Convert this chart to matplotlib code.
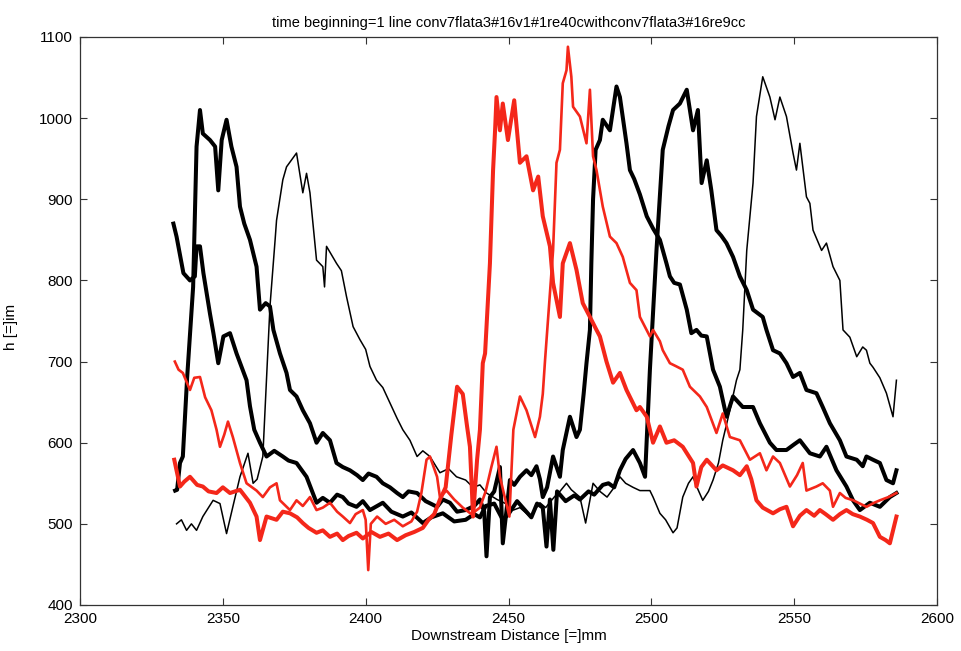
import numpy as np
import matplotlib
matplotlib.use("Agg")
from matplotlib import pyplot as plt

plt.rcParams['font.family'] = ['Liberation Sans', 'DejaVu Sans']

# profile snapshots, downstream distance [mm] vs film height
xA = [2332.7, 2333.8, 2336.2, 2338.5, 2340.2, 2340.8, 2342, 2343.2, 2345.5, 2346.7, 2348.4, 2350.2,
      2352.5, 2354.8, 2358.3, 2359.5, 2361, 2363, 2365.3, 2368, 2371, 2373, 2375.8, 2379.3, 2382.8,
      2385, 2387.5, 2390, 2392, 2394, 2396.8, 2399, 2401.5, 2404, 2406, 2409, 2413, 2416, 2420, 2423,
      2427, 2431, 2435, 2438, 2440, 2442, 2445, 2448, 2450, 2453, 2455, 2458, 2460, 2462, 2463.3,
      2464.5, 2465.7, 2467, 2470, 2473, 2475, 2478, 2480, 2483, 2485, 2487, 2489, 2491, 2493.6, 2496,
      2497.8, 2499.5, 2501.8, 2504, 2506, 2507.6, 2510, 2512.4, 2514.6, 2516.3, 2517.6, 2519.4, 2521,
      2522.8, 2524.5, 2526.3, 2528.6, 2531, 2533.4, 2535.6, 2539, 2540.3, 2542.6, 2545, 2547.3, 2549.6,
      2552, 2554.3, 2557.8, 2560, 2562.5, 2566, 2568.3, 2571.9, 2574, 2575.3, 2577.6, 2580, 2582.3,
      2584.6, 2585.8]
yA = [870, 854, 809, 800, 805, 842, 842, 809, 759, 735, 698, 731,
      735, 710, 677, 645, 616, 600, 583, 590, 583, 578, 575, 558, 526,
      532, 526, 536, 533, 525, 521, 528, 517, 522, 526, 515, 509, 514, 501, 508,
      513, 503, 505, 512, 508, 522, 525, 505, 512, 528, 520, 508, 525, 520, 472,
      530, 468, 540, 528, 535, 530, 540, 536, 548, 550, 545, 566, 580, 591, 575,
      558, 690, 837, 961, 990, 1010, 1018, 1035, 985, 1010, 920, 948, 911,
      862, 855, 846, 829, 805, 788, 764, 755, 739, 714, 710, 698, 681,
      686, 665, 661, 644, 624, 603, 583, 579, 571, 583, 579, 575, 554,
      550, 566]

xB = [2333.3, 2334, 2335, 2336, 2337.5, 2339.6, 2340.8, 2342, 2343, 2345.5, 2347.3, 2348.4, 2349.6,
      2351.3, 2353, 2354.8, 2356, 2357.5, 2359.5, 2361.8, 2363, 2365, 2366.5, 2367.7, 2370, 2372.3,
      2373.5, 2375.8, 2378, 2380.5, 2382.8, 2385, 2387.5, 2389.8, 2392, 2394.5, 2397, 2399, 2401,
      2403.8, 2406, 2408.5, 2411, 2413, 2415, 2418, 2421, 2425, 2427, 2429.5, 2432, 2435, 2438, 2440,
      2441.5, 2442.3, 2443.5, 2445, 2447, 2448, 2450.5, 2452, 2454, 2456.3, 2458, 2459.8, 2461, 2462,
      2463.5, 2465.6, 2468, 2469, 2471.5, 2473.8, 2475, 2476.3, 2477.3, 2478.5, 2479, 2479.6, 2480.5,
      2482, 2483, 2485.5, 2487.8, 2489, 2491.3, 2492.5, 2494, 2496, 2498.4, 2500.6, 2503, 2505.3,
      2506.5, 2508, 2510, 2512.4, 2514, 2515.8, 2517.5, 2519.4, 2521.6, 2524, 2526.3, 2528.6, 2532,
      2535.6, 2538, 2541.5, 2543.8, 2547.3, 2550, 2552, 2555.5, 2559, 2561.3, 2564.8, 2568.3, 2570.6,
      2573, 2576.5, 2580, 2583.5, 2585.8]
yB = [541, 542, 575, 583, 680, 792, 965, 1010, 981, 973, 965, 911, 973,
      998, 965, 940, 891, 870, 850, 817, 764, 772, 768, 739, 710, 686,
      665, 657, 640, 624, 600, 612, 603, 575, 570, 566, 560, 554, 562,
      558, 550, 545, 538, 533, 540, 538, 528, 521, 530, 526, 515, 517, 522, 530,
      515, 460, 533, 540, 570, 476, 554, 548, 558, 566, 560, 571, 555, 533,
      545, 583, 558, 591, 632, 607, 616, 660, 698, 739, 821, 900, 961,
      973, 998, 985, 1039, 1026, 969, 936, 925, 906, 879, 864, 850, 821,
      805, 797, 795, 764, 735, 739, 732, 731, 690, 669, 632, 657, 644,
      644, 624, 600, 591, 591, 598, 603, 587, 583, 595, 566, 546, 529,
      517, 526, 521, 533, 538]

xC = [2333.8, 2335.5, 2337.3, 2339, 2340.8, 2343, 2346.6, 2349, 2351.3, 2353.5, 2356, 2358.8, 2360.6,
      2362, 2364, 2366.5, 2368.3, 2368.8, 2371, 2372.3, 2375.8, 2378, 2379.3, 2380.5, 2382.8, 2385,
      2385.6, 2386.3, 2389.8, 2391.5, 2393.3, 2395.6, 2398, 2400, 2401.5, 2403.8, 2406, 2408.5, 2411,
      2413, 2415.5, 2418, 2420, 2422.5, 2426, 2429, 2431.8, 2435, 2437.6, 2440, 2442.3, 2446, 2449,
      2451.7, 2454, 2457.5, 2461, 2463, 2466, 2468, 2470.3, 2472, 2475, 2477, 2479.6, 2482, 2484.5,
      2487, 2489, 2491, 2493.6, 2496, 2499.5, 2500.6, 2503, 2505, 2507.6, 2509, 2511, 2513, 2514.6,
      2516, 2518, 2520, 2521.6, 2523.5, 2525, 2527.5, 2529.8, 2531, 2532, 2533.4, 2535.6, 2536.8,
      2539, 2541.5, 2543.3, 2545, 2547.3, 2549.6, 2550.8, 2552, 2554.3, 2555.5, 2556.6, 2559.6,
      2561.3, 2563.6, 2566, 2567.1, 2569.5, 2571.9, 2574, 2575.3, 2576.5, 2577.6, 2580, 2582.3,
      2584.6, 2585.8]
yC = [500, 505, 492, 500, 492, 509, 529, 525, 488, 521, 558, 587, 550,
      555, 583, 768, 850, 874, 924, 940, 957, 908, 932, 908, 825, 817,
      792, 842, 821, 812, 780, 743, 727, 715, 694, 677, 668, 649, 630,
      616, 603, 583, 590, 583, 563, 568, 558, 554, 545, 548, 538, 530, 525,
      517, 520, 509, 526, 520, 533, 540, 550, 542, 533, 501, 550, 540, 533,
      545, 558, 550, 545, 541, 541, 533, 513, 505, 489, 495, 533, 550, 558,
      545, 529, 540, 554, 575, 603, 640, 677, 690, 739, 837, 920, 1002,
      1051, 1026, 998, 1026, 1002, 957, 936, 969, 903, 895, 862, 837,
      846, 817, 800, 739, 730, 706, 718, 714, 698, 693, 680, 661,
      632, 677]

xR1 = [2333, 2335, 2336.5, 2338.5, 2341, 2343, 2345, 2347.8, 2350, 2352.5, 2356, 2359.5, 2361.8,
       2363, 2365.3, 2368.8, 2371, 2373.5, 2376, 2378, 2380, 2382.8, 2385, 2387.5, 2390, 2392, 2394,
       2396.8, 2399, 2402, 2405, 2408, 2411, 2414, 2417, 2420, 2422, 2424, 2426, 2428, 2430, 2432,
       2434, 2435.5, 2436.5, 2437.6, 2439, 2440, 2441, 2441.8, 2443.5, 2444.6, 2445.3, 2445.8, 2447,
       2448, 2449.8, 2452, 2454, 2456.3, 2458.6, 2460.4, 2462, 2464.5, 2465.6, 2468, 2469, 2471.5,
       2473.8, 2476, 2478.5, 2480.8, 2482, 2484.3, 2486.6, 2489, 2491.3, 2494.8, 2496, 2498.4, 2500.6,
       2503, 2505.3, 2508, 2511, 2514.6, 2515.8, 2517.5, 2519.4, 2522.8, 2525, 2528.6, 2531, 2533.4,
       2535, 2536.8, 2539, 2542.6, 2545, 2547.3, 2549.6, 2552, 2554.3, 2557, 2559, 2561, 2563.6, 2566,
       2568.3, 2570.5, 2573, 2575.5, 2577.6, 2580, 2582, 2583.5, 2585.8]
yR1 = [579, 546, 552, 558, 548, 546, 540, 538, 545, 538, 542, 526, 509,
       480, 509, 505, 515, 513, 508, 501, 495, 489, 492, 484, 488, 480, 485,
       489, 482, 490, 484, 488, 480, 486, 490, 495, 505, 512, 530, 545, 610, 669,
       660, 620, 595, 509, 579, 616, 698, 710, 821, 936, 985, 1026, 985,
       1018, 973, 1022, 945, 953, 911, 928, 879, 842, 797, 755, 821, 846,
       813, 772, 755, 739, 731, 700, 674, 686, 665, 640, 644, 632, 600,
       620, 600, 603, 595, 575, 546, 570, 579, 566, 572, 566, 560, 571,
       555, 529, 520, 513, 518, 521, 497, 510, 517, 510, 517, 512, 505, 512,
       517, 512, 509, 505, 501, 484, 480, 476, 509]

xR2 = [2333.2, 2334.5, 2336, 2338.5, 2340, 2342, 2343.8, 2346, 2347.8, 2349, 2350.5, 2351.8, 2353.5,
       2356, 2358.3, 2361.8, 2364, 2366.5, 2368.8, 2370, 2373.5, 2375.8, 2378, 2380.5, 2382.8, 2385,
       2387.5, 2390, 2392, 2394.5, 2396.5, 2399, 2400, 2400.9, 2401.8, 2404, 2407, 2410, 2413, 2416,
       2418, 2419.5, 2421.3, 2422.5, 2425, 2426, 2428.3, 2431, 2434, 2437, 2440, 2442, 2444, 2445.8,
       2447, 2450.3, 2451.7, 2454, 2456.3, 2459.3, 2461, 2462, 2462.8, 2465.6, 2466.8, 2468, 2469,
       2470.3, 2470.8, 2472, 2472.6, 2475, 2477.3, 2478.5, 2479.6, 2480.8, 2483, 2485.5, 2487.8, 2490,
       2492.5, 2494.8, 2496, 2499.5, 2500.6, 2503, 2504, 2506.5, 2508.8, 2511, 2513.5, 2517, 2519.4,
       2522.8, 2525, 2527.5, 2531, 2534.5, 2538, 2540.3, 2542.6, 2545, 2548.5, 2551, 2553, 2554.3,
       2557.8, 2560, 2562.5, 2563.6, 2566, 2568, 2570.7, 2573, 2575.3, 2578, 2580, 2583, 2585.8]
yR2 = [700, 690, 686, 665, 680, 681, 656, 640, 616, 595, 610, 626, 607,
       575, 550, 541, 533, 545, 550, 529, 517, 529, 522, 533, 517, 520,
       526, 515, 509, 501, 512, 517, 505, 443, 500, 509, 500, 505, 497, 503,
       515, 538, 579, 583, 558, 533, 541, 530, 520, 512, 520, 540, 570, 595,
       558, 509, 616, 657, 640, 607, 632, 660, 702, 837, 945, 961, 1043,
       1059, 1088, 1051, 1014, 1002, 969, 1035, 953, 936, 891, 854, 846, 829,
       797, 788, 755, 731, 739, 725, 714, 698, 694, 690, 669, 657, 644,
       612, 636, 607, 603, 579, 587, 566, 583, 575, 546, 560, 575, 541,
       546, 550, 541, 521, 538, 532, 529, 525, 521, 526, 529, 533, 538]

black = 'black'
red = '#f4271a'

fig = plt.figure(figsize=(9.61, 6.51), dpi=100)
ax = fig.add_axes([80 / 961, 1 - 605 / 651, 857 / 961, 568 / 651])

ax.plot(xC, yC, color=black, lw=1.1)
ax.plot(xA, yA, color=black, lw=2.9)
ax.plot(xB, yB, color=black, lw=2.9)
ax.plot(xR2, yR2, color=red, lw=1.9)
ax.plot(xR1, yR1, color=red, lw=2.9)

ax.set_xlim(2300, 2600)
ax.set_ylim(400, 1100)
ax.set_xticks(np.arange(2300, 2601, 50))
ax.set_yticks(np.arange(400, 1101, 100))
ax.tick_params(direction='in', top=True, right=True, length=5, width=0.8,
               labelsize=11, color='#333333', pad=5)
for s in ax.spines.values():
    s.set_color('#333333')
    s.set_linewidth(0.9)

ax.set_title('time beginning=1 line conv7flata3#16v1#1re40cwithconv7flata3#16re9cc',
             fontsize=10.5, pad=7)
ax.set_xlabel('Downstream Distance [=]mm', fontsize=11, labelpad=2)
ax.set_ylabel('h [=]im', fontsize=11)
ax.yaxis.set_label_coords(-0.072, 0.49)

fig.savefig('out.png', dpi=100, facecolor='white')
